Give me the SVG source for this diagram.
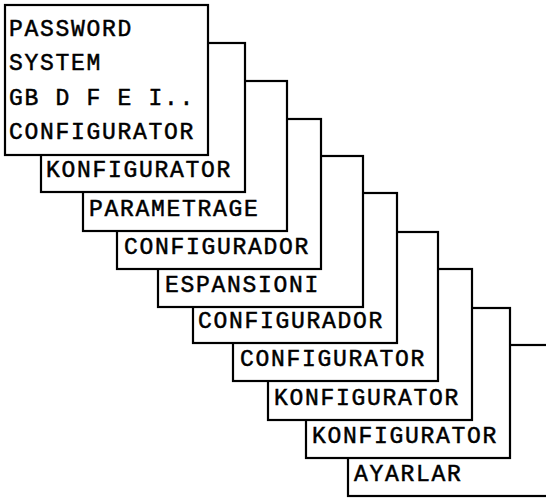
<svg xmlns="http://www.w3.org/2000/svg" width="546" height="498" viewBox="0 0 546 498">
<style>
rect.b{fill:#fff;stroke:#000;stroke-width:2.2}
text{font-family:"Liberation Mono","DejaVu Sans Mono",monospace;font-size:23px;letter-spacing:1.7px;fill:#000;stroke:#000;stroke-width:0.5}
</style>
<rect width="546" height="498" fill="#fff"/>
<g id="n10"><rect class="b" x="348" y="345" width="204" height="151"/><text x="354" y="481">AYARLAR</text></g>
<g id="n9"><rect class="b" x="306" y="308" width="204" height="150"/><text x="312" y="443">KONFIGURATOR</text></g>
<g id="n8"><rect class="b" x="268" y="269" width="204" height="151"/><text x="274" y="405">KONFIGURATOR</text></g>
<g id="n7"><rect class="b" x="233" y="232" width="205" height="149"/><text x="240" y="366">CONFIGURATOR</text></g>
<g id="n6"><rect class="b" x="193" y="193" width="204" height="150"/><text x="198" y="328">CONFIGURADOR</text></g>
<g id="n5"><rect class="b" x="158" y="156" width="205" height="151"/><text x="165" y="292">ESPANSIONI</text></g>
<g id="n4"><rect class="b" x="117" y="119" width="204" height="150"/><text x="124" y="254">CONFIGURADOR</text></g>
<g id="n3"><rect class="b" x="83" y="81" width="204" height="150"/><text x="89" y="216">PARAMETRAGE</text></g>
<g id="n2"><rect class="b" x="41" y="43" width="204" height="149"/><text x="46" y="177">KONFIGURATOR</text></g>
<g id="n1"><rect class="b" x="5" y="5" width="203" height="150"/>
<text x="9" y="36">PASSWORD</text>
<text x="9" y="70">SYSTEM</text>
<text x="9" y="105">GB D F E I..</text>
<text x="9" y="139">CONFIGURATOR</text>
</g>
<g id="connectors"></g>
</svg>
